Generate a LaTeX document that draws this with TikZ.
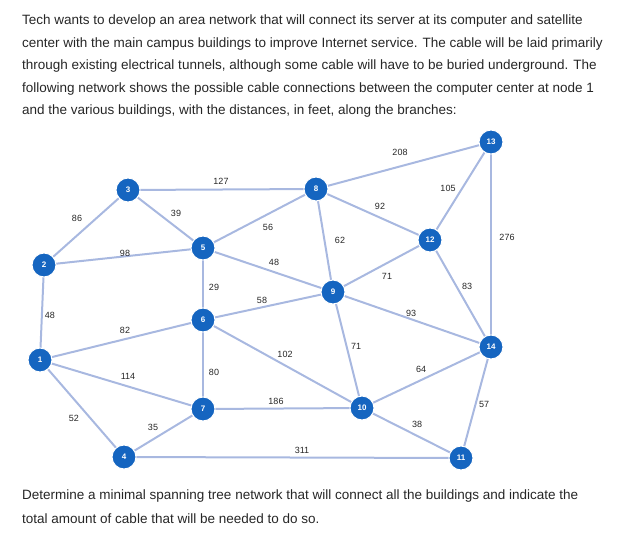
\documentclass[tikz,border=0pt]{standalone}
\usepackage{fontspec}
\setmainfont{Liberation Sans}
\begin{document}
\begin{tikzpicture}[x=1pt,y=-1pt,
  vtx/.style={circle,fill=nodeblue,draw=white,line width=1pt,minimum size=24pt,inner sep=0pt,text=white,font=\fontsize{8}{8}\selectfont\bfseries},
  edge/.style={draw=edgeblue,line width=2pt},
  wl/.style={font=\fontsize{9}{9}\selectfont,text=black!85},
  para/.style={anchor=west,font=\fontsize{13.5}{13.5}\selectfont,text=black!85,inner sep=0pt}]
\definecolor{nodeblue}{HTML}{1565C0}
\definecolor{edgeblue}{HTML}{A8B8E0}
\useasboundingbox (0,0) rectangle (626,533);
\node[para] (t1) at (22,21) {Tech wants to develop an area network that will connect its server at its computer and satellite};
\node[para] (t2) at (22,44) {center with the main campus buildings to improve Internet service. The cable will be laid primarily};
\node[para] (t3) at (22,66) {through existing electrical tunnels, although some cable will have to be buried underground. The};
\node[para] (t4) at (22,89) {following network shows the possible cable connections between the computer center at node 1};
\node[para] (t5) at (22,111) {and the various buildings, with the distances, in feet, along the branches:};
\node[para] (t6) at (22,496) {Determine a minimal spanning tree network that will connect all the buildings and indicate the};
\node[para] (t7) at (22,519) {total amount of cable that will be needed to do so.};
\coordinate (p1) at (40,360); \coordinate (p2) at (44,265); \coordinate (p3) at (128,190);
\coordinate (p4) at (124,457); \coordinate (p5) at (203,248); \coordinate (p6) at (203,320);
\coordinate (p7) at (203,409); \coordinate (p8) at (316,189); \coordinate (p9) at (333,292);
\coordinate (p10) at (362,408); \coordinate (p11) at (461,458); \coordinate (p12) at (430,240);
\coordinate (p13) at (491,142); \coordinate (p14) at (491,347);
\foreach \a/\b in {1/2,2/3,1/6,1/7,1/4,2/5,3/8,3/5,5/8,5/9,5/6,6/9,6/7,6/10,4/7,7/10,4/11,8/9,8/12,8/13,12/13,9/12,9/14,9/10,12/14,13/14,10/14,10/11,11/14}
  \draw[edge] (p\a) -- (p\b);
\foreach \i in {1,...,14} \node[vtx] (n\i) at (p\i) {\i};
\foreach \t/\x/\y in {48/50/315,86/77/218,82/125/330,114/128/376,52/74/418,98/125/253,127/221/181,39/176/213,56/268/227,48/274/262,29/214/287,58/262/300,80/214/372,102/285/354,35/153/427,186/276/401,311/302/450,62/340/240,92/380/206,208/400/152,105/448/188,71/387/276,93/411/313,71/356/346,83/467/286,276/507/237,64/421/369,38/417/424,57/484/404}
  \node[wl] at (\x,\y) {\t};
\end{tikzpicture}
\end{document}
